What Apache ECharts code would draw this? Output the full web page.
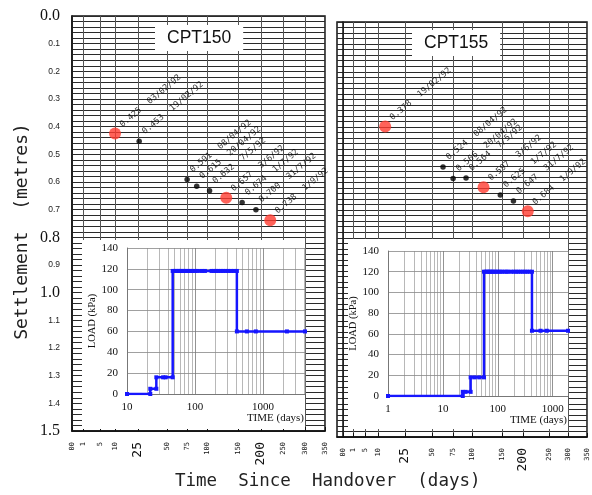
<!DOCTYPE html>
<html>
<head>
<meta charset="utf-8">
<script src="https://cdn.jsdelivr.net/npm/echarts@6/dist/echarts.min.js"></script>
<style>
html, body { margin: 0; padding: 0; background: #fff; }
#main { width: 592px; height: 495px; }
</style>
</head>
<body>
<div id="main"></div>
<script>
// printed time scale of the sheets: day value, its label, and where it sits (0-100 across each panel)
var tickDays = [0, 1, 5, 10, 25, 50, 75, 100, 150, 200, 250, 300, 350];
var tickLabels = ['00', '1', '5', '10', '25', '50', '75', '100', '150', '200', '250', '300', '350'];
var tickPos150 = [0, 4.3, 11.1, 17.0, 26.1, 37.5, 45.5, 53.4, 65.6, 74.7, 83.4, 92.1, 100];
var tickPos155 = [0, 4.1, 9.0, 14.3, 25.4, 36.5, 45.1, 52.9, 65.2, 73.8, 84.4, 92.2, 100];
var bigTickLabels = ['25', '200'];
var bigSettleLabels = ['0.0', '0.8', '1.0', '1.5'];

// CPT150 settlement readings (red = CPT test date)
var cpt150Days = [10, 26, 75, 87, 104, 131, 159, 189, 221];
var cpt150Settle = [0.425, 0.453, 0.591, 0.615, 0.632, 0.657, 0.674, 0.700, 0.738];
var cpt150Dates = ['03/02/92', '19/02/92', '08/04/92', '20/04/92', '7/5/92', '3/6/92', '1/7/92', '31/7/92', '1/9/92'];
var cpt150Red = [1, 0, 0, 0, 0, 1, 0, 0, 1];

// CPT155 settlement readings
var cpt155Days = [14, 63, 75, 92, 119, 147, 177, 209];
var cpt155Settle = [0.378, 0.524, 0.566, 0.564, 0.597, 0.625, 0.647, 0.684];
var cpt155Dates = ['19/02/92', '08/04/92', '20/04/92', '7/5/92', '3/6/92', '1/7/92', '31/7/92', '1/9/92'];
var cpt155Red = [1, 0, 0, 0, 1, 0, 0, 1];

// load history (insets)
var load150Time = [10, 22, 22, 27, 27, 34, 37, 47,
  47, 50, 53, 56, 59, 62, 66, 70, 75, 80, 86, 92, 100, 110, 125, 140, 175, 190, 205, 220, 240, 260, 285, 310, 340, 375, 413,
  413, 580, 785, 2250, 4150];
var load150Kpa = [0, 0, 5, 5, 16, 16, 16, 16,
  118, 118, 118, 118, 118, 118, 118, 118, 118, 118, 118, 118, 118, 118, 118, 118, 118, 118, 118, 118, 118, 118, 118, 118, 118, 118, 118,
  60, 60, 60, 60, 60];
var load155Time = [1, 23, 23, 26, 32, 32, 38, 46, 56,
  56, 60, 64, 68, 72, 77, 82, 88, 95, 102, 110, 120, 132, 145, 155, 177, 195, 215, 235, 260, 285, 315, 345, 380, 419,
  419, 600, 780, 1900];
var load155Kpa = [0, 0, 4, 4, 4, 18, 18, 18, 18,
  120, 120, 120, 120, 120, 120, 120, 120, 120, 120, 120, 120, 120, 120, 120, 120, 120, 120, 120, 120, 120, 120, 120, 120, 120,
  63, 63, 63, 63];

var MONO = 'DejaVu Sans Mono';
var SERIF = 'Liberation Serif';

// position of a day value on the irregular printed scale
function dayToPaper(d, pos) {
  for (var i = 0; i < tickDays.length - 1; i++) {
    if (d <= tickDays[i + 1]) {
      var f = (d - tickDays[i]) / (tickDays[i + 1] - tickDays[i]);
      return pos[i] + f * (pos[i + 1] - pos[i]);
    }
  }
  return 100;
}

function points(days, settle, dates, red, want, pos) {
  var out = [];
  for (var i = 0; i < days.length; i++) {
    if (red[i] !== want) continue;
    out.push({ value: [dayToPaper(days[i], pos), settle[i]], name: settle[i].toFixed(3) + '  ' + dates[i] });
  }
  return out;
}

function pairs(xs, ys) {
  return xs.map(function (x, i) { return [x, ys[i]]; });
}

function logMinor(min, max) {
  var out = [];
  for (var dec = 1; dec <= 1000; dec *= 10) {
    for (var k = 2; k <= 9; k++) {
      var v = k * dec;
      if (v > min && v < max) out.push({ xAxis: v });
    }
  }
  return out;
}

function paperX(grid, min, pos) {
  return {
    gridIndex: grid, type: 'value', min: min, max: 100, interval: 6.25,
    axisLine: { show: true, onZero: false, lineStyle: { color: '#111', width: 1.5 } },
    axisTick: { show: true, inside: true, length: 4, customValues: pos, lineStyle: { color: '#111' } },
    axisLabel: {
      show: true, customValues: pos, rotate: 90, margin: 11, color: '#111',
      formatter: function (v) {
        for (var i = 0; i < pos.length; i++) {
          if (Math.abs(pos[i] - v) < 1e-6) {
            var t = tickLabels[i];
            return bigTickLabels.indexOf(t) >= 0 ? '{big|' + t + '}' : '{small|' + t + '}';
          }
        }
        return '';
      },
      rich: {
        big: { fontFamily: MONO, fontSize: 13, color: '#111' },
        small: { fontFamily: MONO, fontSize: 7, color: '#111' }
      }
    },
    splitLine: { show: true, lineStyle: { color: '#555', width: 1 } }
  };
}

function paperY(grid, showLabel) {
  var ax = {
    gridIndex: grid, type: 'value', inverse: true, min: 0, max: 1.5, interval: 0.1,
    axisLine: { show: true, lineStyle: { color: '#111', width: 1.5 } },
    axisTick: { show: false },
    minorTick: { show: false, splitNumber: 5 },
    axisLabel: {
      show: showLabel, margin: 12, showMinLabel: true, showMaxLabel: true,
      formatter: function (v) {
        var s = v.toFixed(1);
        return bigSettleLabels.indexOf(s) >= 0 ? '{big|' + s + '}' : '{small|' + s + '}';
      },
      rich: {
        big: { fontFamily: SERIF, fontSize: 16, color: '#111' },
        small: { fontFamily: 'Liberation Sans', fontSize: 8.5, color: '#222' }
      }
    },
    splitLine: { show: true, lineStyle: { color: '#2a2a2a', width: 1 } },
    minorSplitLine: { show: true, lineStyle: { color: '#2a2a2a', width: 1 } }
  };
  if (showLabel) {
    ax.name = 'Settlement  (metres)';
    ax.nameLocation = 'middle';
    ax.nameRotate = 90;
    ax.nameGap = 41;
    ax.nameTextStyle = { fontFamily: MONO, fontSize: 18, color: '#222', padding: [0, 16, 0, 0] };
  }
  return ax;
}

function loadX(grid, min, max) {
  return {
    gridIndex: grid, type: 'log', logBase: 10, min: min, max: max, z: 6,
    axisLine: { show: true, lineStyle: { color: '#777' } },
    axisTick: { show: false },
    axisLabel: { margin: 8, fontFamily: SERIF, fontSize: 11, color: '#111', showMaxLabel: false,
      formatter: function (v) { return String(Math.round(v)); } },
    splitLine: { show: true, lineStyle: { color: '#777', width: 0.8 } },
    name: 'TIME (days)', nameLocation: 'end', nameGap: -1,
    nameTextStyle: { fontFamily: SERIF, fontSize: 11, color: '#111', align: 'right', verticalAlign: 'top', padding: [19, 0, 0, 0] }
  };
}

function loadY(grid) {
  return {
    gridIndex: grid, type: 'value', min: 0, max: 140, interval: 20, z: 6,
    axisLine: { show: true, lineStyle: { color: '#777' } },
    axisTick: { show: false },
    axisLabel: { margin: 9, fontFamily: SERIF, fontSize: 11, color: '#111' },
    splitLine: { show: true, lineStyle: { color: '#888', width: 0.8 } },
    name: 'LOAD (kPa)', nameLocation: 'middle', nameRotate: 90, nameGap: 29,
    nameTextStyle: { fontFamily: SERIF, fontSize: 10.5, color: '#111' }
  };
}

function settleSeries(grid, days, settle, dates, red, want, pos) {
  var isRed = want === 1;
  return {
    type: 'scatter', xAxisIndex: grid, yAxisIndex: grid, z: 3,
    data: points(days, settle, dates, red, want, pos),
    symbol: 'circle', symbolSize: isRed ? 12 : 5.5,
    itemStyle: { color: isRed ? '#ff3b30' : '#000' },
    label: {
      show: true, formatter: '{b}', rotate: 40,
      position: isRed ? [12, -2] : [7, -6],
      align: 'left', verticalAlign: 'middle',
      fontFamily: MONO, fontSize: 8.5, color: '#000'
    }
  };
}

function loadSeries(grid, xs, ys) {
  return {
    type: 'line', xAxisIndex: grid, yAxisIndex: grid, z: 8,
    data: pairs(xs, ys), symbol: 'rect', symbolSize: 4, showAllSymbol: true,
    lineStyle: { color: '#1616ff', width: 2.5 }, itemStyle: { color: '#1616ff' }
  };
}

function minorSeries(grid, min, max) {
  return {
    type: 'line', xAxisIndex: grid, yAxisIndex: grid, z: 7, data: [],
    markLine: { silent: true, symbol: 'none', animation: false, label: { show: false },
      lineStyle: { color: '#999', width: 0.7, type: 'solid' }, data: logMinor(min, max) }
  };
}

var chart = echarts.init(document.getElementById('main'));
chart.setOption({
  animation: false,
  backgroundColor: '#fff',
  title: [
    { text: 'CPT150', left: 155, top: 25, padding: [4, 12], backgroundColor: '#fff',
      textStyle: { fontFamily: 'Liberation Sans', fontSize: 17.5, fontWeight: 'normal', color: '#111' } },
    { text: 'CPT155', left: 412, top: 30, padding: [4, 12], backgroundColor: '#fff',
      textStyle: { fontFamily: 'Liberation Sans', fontSize: 17.5, fontWeight: 'normal', color: '#111' } },
    { text: 'Time  Since  Handover  (days)', left: 170, top: 467,
      textStyle: { fontFamily: MONO, fontSize: 17.5, fontWeight: 'normal', color: '#222' } }
  ],
  graphic: [
    { type: 'rect', z: 5, shape: { x: 82, y: 240, width: 223, height: 189 }, style: { fill: '#fff' } },
    { type: 'rect', z: 5, shape: { x: 348, y: 239, width: 220, height: 190 }, style: { fill: '#fff' } }
  ],
  grid: [
    { left: 72, top: 16, width: 253, height: 415, show: true, borderColor: '#111', borderWidth: 1.5, outerBoundsMode: 'none' },
    { left: 337, top: 22, width: 250, height: 415, show: true, borderColor: '#111', borderWidth: 1.5, outerBoundsMode: 'none' },
    { left: 127, top: 248, width: 178, height: 146, outerBoundsMode: 'none' },
    { left: 388, top: 251, width: 180, height: 145, outerBoundsMode: 'none' }
  ],
  xAxis: [
    paperX(0, 0, tickPos150),
    paperX(1, -2.5, tickPos155),
    loadX(2, 10, 4150),
    loadX(3, 1, 1900)
  ],
  yAxis: [
    paperY(0, true),
    paperY(1, false),
    loadY(2),
    loadY(3)
  ],
  series: [
    settleSeries(0, cpt150Days, cpt150Settle, cpt150Dates, cpt150Red, 0, tickPos150),
    settleSeries(0, cpt150Days, cpt150Settle, cpt150Dates, cpt150Red, 1, tickPos150),
    settleSeries(1, cpt155Days, cpt155Settle, cpt155Dates, cpt155Red, 0, tickPos155),
    settleSeries(1, cpt155Days, cpt155Settle, cpt155Dates, cpt155Red, 1, tickPos155),
    minorSeries(2, 10, 4150),
    minorSeries(3, 1, 1900),
    loadSeries(2, load150Time, load150Kpa),
    loadSeries(3, load155Time, load155Kpa)
  ]
});
</script>
</body>
</html>
